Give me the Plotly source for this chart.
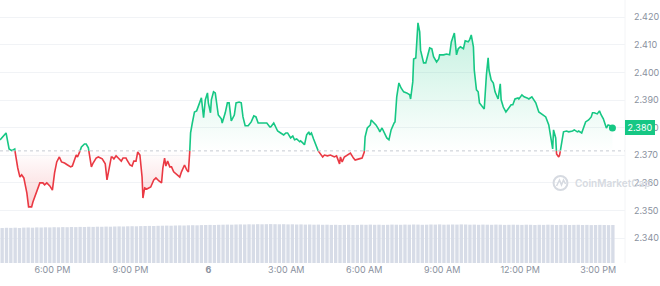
import plotly.graph_objects as go
from datetime import datetime, timedelta

# ---------------- data ----------------
START = datetime(2024, 1, 5, 15, 59)
REF_PRICE = 2.3716
CURRENT_LABEL = "2.380"

minutes = [
    0, 7, 14, 21, 27, 34, 39, 41, 46, 50,
    55, 62, 66, 73, 76, 85, 92, 99, 103, 108,
    115, 121, 126, 131, 137, 142, 149, 156, 163, 167,
    172, 176, 179, 183, 188, 195, 199, 204, 208, 211,
    215, 222, 227, 236, 243, 247, 257, 259, 263, 268,
    273, 280, 284, 291, 293, 300, 305, 309, 314, 318,
    323, 328, 330, 334, 339, 348, 355, 360, 367, 373,
    376, 380, 383, 387, 392, 396, 401, 408, 415, 419,
    426, 431, 435, 438, 440, 444, 449, 454, 460, 465,
    470, 474, 479, 481, 486, 488, 493, 497, 504, 511,
    513, 520, 525, 529, 534, 541, 545, 552, 557, 561,
    566, 573, 580, 586, 591, 596, 603, 612, 616, 623,
    625, 632, 635, 641, 648, 655, 660, 664, 671, 676,
    680, 685, 692, 694, 699, 703, 708, 713, 715, 719,
    724, 729, 733, 738, 745, 749, 756, 763, 772, 777,
    784, 786, 790, 795, 800, 806, 809, 816, 820, 829,
    836, 841, 843, 848, 855, 857, 864, 868, 875, 877,
    882, 887, 893, 898, 903, 910, 912, 916, 921, 926,
    932, 939, 946, 948, 953, 955, 960, 965, 969, 971,
    978, 983, 987, 992, 997, 1001, 1008, 1013, 1015, 1024,
    1031, 1038, 1042, 1047, 1049, 1054, 1058, 1063, 1070, 1074,
    1081, 1084, 1088, 1093, 1095, 1100, 1104, 1107, 1116, 1118,
    1123, 1127, 1129, 1134, 1139, 1143, 1150, 1155, 1157, 1162,
    1168, 1175, 1180, 1184, 1189, 1196, 1198, 1205, 1210, 1217,
    1221, 1228, 1233, 1237, 1244, 1253, 1260, 1267, 1271, 1276,
    1278, 1283, 1285, 1290, 1292, 1297, 1301, 1308, 1313, 1322,
    1326, 1333, 1336, 1343, 1347, 1352, 1359, 1365, 1368, 1372,
    1379, 1384, 1388, 1393, 1400, 1404, 1409, 1414,
]

price = [
    2.3756, 2.3770, 2.3781, 2.3723, 2.3717, 2.3723, 2.3658, 2.3654, 2.3621, 2.3629,
    2.3618, 2.3564, 2.3513, 2.3513, 2.3531, 2.3567, 2.3600, 2.3600, 2.3593, 2.3600,
    2.3589, 2.3574, 2.3636, 2.3676, 2.3694, 2.3676, 2.3672, 2.3665, 2.3658, 2.3661,
    2.3687, 2.3701, 2.3694, 2.3708, 2.3730, 2.3741, 2.3741, 2.3727, 2.3687, 2.3658,
    2.3672, 2.3690, 2.3694, 2.3687, 2.3669, 2.3611, 2.3694, 2.3694, 2.3687, 2.3698,
    2.3690, 2.3679, 2.3690, 2.3690, 2.3683, 2.3665, 2.3661, 2.3679, 2.3679, 2.3712,
    2.3701, 2.3621, 2.3545, 2.3582, 2.3578, 2.3585, 2.3611, 2.3618, 2.3607, 2.3600,
    2.3654, 2.3690, 2.3661, 2.3679, 2.3658, 2.3658, 2.3640, 2.3629, 2.3621, 2.3640,
    2.3665, 2.3647, 2.3640, 2.3712, 2.3781, 2.3817, 2.3857, 2.3861, 2.3883, 2.3908,
    2.3836, 2.3901, 2.3926, 2.3890, 2.3854, 2.3901, 2.3930, 2.3926, 2.3846, 2.3832,
    2.3817, 2.3854, 2.3890, 2.3890, 2.3825, 2.3846, 2.3890, 2.3893, 2.3890, 2.3839,
    2.3807, 2.3807, 2.3821, 2.3843, 2.3839, 2.3817, 2.3817, 2.3817, 2.3817, 2.3803,
    2.3803, 2.3817, 2.3807, 2.3788, 2.3781, 2.3774, 2.3781, 2.3781, 2.3763, 2.3770,
    2.3756, 2.3759, 2.3749, 2.3752, 2.3745, 2.3738, 2.3774, 2.3785, 2.3774, 2.3781,
    2.3759, 2.3741, 2.3720, 2.3708, 2.3694, 2.3701, 2.3698, 2.3701, 2.3694, 2.3698,
    2.3669, 2.3694, 2.3676, 2.3694, 2.3698, 2.3705, 2.3708, 2.3690, 2.3683, 2.3687,
    2.3690, 2.3712, 2.3767, 2.3799, 2.3810, 2.3828, 2.3817, 2.3810, 2.3792, 2.3785,
    2.3799, 2.3781, 2.3763, 2.3756, 2.3792, 2.3817, 2.3821, 2.3912, 2.3962, 2.3944,
    2.3930, 2.3926, 2.3919, 2.3904, 2.3966, 2.4049, 2.4053, 2.4180, 2.4147, 2.4081,
    2.4035, 2.4035, 2.4057, 2.4089, 2.4086, 2.4057, 2.4038, 2.4049, 2.4064, 2.4064,
    2.4067, 2.4064, 2.4111, 2.4140, 2.4143, 2.4064, 2.4086, 2.4093, 2.4086, 2.4115,
    2.4111, 2.4118, 2.4136, 2.4093, 2.4009, 2.3937, 2.3930, 2.3890, 2.3875, 2.3868,
    2.3991, 2.4053, 2.4009, 2.3973, 2.3962, 2.3930, 2.3904, 2.3959, 2.3901, 2.3875,
    2.3857, 2.3875, 2.3883, 2.3883, 2.3904, 2.3908, 2.3904, 2.3919, 2.3912, 2.3908,
    2.3904, 2.3912, 2.3897, 2.3890, 2.3857, 2.3846, 2.3839, 2.3810, 2.3767, 2.3723,
    2.3792, 2.3763, 2.3705, 2.3694, 2.3701, 2.3745, 2.3785, 2.3788, 2.3785, 2.3788,
    2.3792, 2.3785, 2.3788, 2.3781, 2.3803, 2.3821, 2.3828, 2.3839, 2.3854, 2.3854,
    2.3850, 2.3861, 2.3846, 2.3832, 2.3799, 2.3810, 2.3807, 2.3799,
]

VOLUME_STEP_MIN = 10
volume = [
    3.50, 3.52, 3.51, 3.53, 3.50, 3.54, 3.55, 3.53, 3.56, 3.55, 3.57, 3.56,
    3.58, 3.57, 3.59, 3.58, 3.60, 3.59, 3.61, 3.60, 3.62, 3.61, 3.63, 3.62,
    3.64, 3.63, 3.65, 3.66, 3.65, 3.67, 3.68, 3.67, 3.69, 3.70, 3.71, 3.70,
    3.72, 3.73, 3.74, 3.73, 3.75, 3.76, 3.75, 3.77, 3.78, 3.77, 3.79, 3.80,
    3.81, 3.80, 3.82, 3.83, 3.84, 3.83, 3.85, 3.86, 3.85, 3.87, 3.86, 3.88,
    3.87, 3.88, 3.89, 3.88, 3.87, 3.88, 3.86, 3.87, 3.85, 3.86, 3.84, 3.85,
    3.83, 3.84, 3.82, 3.83, 3.81, 3.82, 3.80, 3.81, 3.82, 3.80, 3.81, 3.83,
    3.82, 3.84, 3.82, 3.83, 3.81, 3.82, 3.84, 3.83, 3.82, 3.84, 3.83, 3.85,
    3.84, 3.82, 3.83, 3.85, 3.84, 3.86, 3.83, 3.84, 3.85, 3.84, 3.86, 3.85,
    3.83, 3.84, 3.82, 3.84, 3.83, 3.82, 3.84, 3.83, 3.81, 3.82, 3.83, 3.82,
    3.81, 3.83, 3.82, 3.80, 3.82, 3.81, 3.83, 3.82, 3.80, 3.81, 3.82, 3.80,
    3.81, 3.82, 3.80, 3.81, 3.79, 3.80, 3.81, 3.80, 3.79, 3.80,
]

tick_times = ["2024-01-05 18:00", "2024-01-05 21:00", "2024-01-06 00:00", "2024-01-06 03:00",
              "2024-01-06 06:00", "2024-01-06 09:00", "2024-01-06 12:00", "2024-01-06 15:00"]
tick_labels = ["6:00 PM", "9:00 PM", "<b>6</b>", "3:00 AM", "6:00 AM", "9:00 AM", "12:00 PM", "3:00 PM"]
price_ticks = [2.34, 2.35, 2.36, 2.37, 2.38, 2.39, 2.40, 2.41, 2.42]
price_tick_labels = ["2.340", "2.350", "2.360", "2.370", "2.380", "2.390", "2.400", "2.410", "2.420"]
WATERMARK = "CoinMarketCap"

assert len(minutes) == len(price)

GREEN = "#16c784"
RED = "#ea3943"
FONT = "Inter, Roboto, sans-serif"
WM_COLOR = "#d6dae1"

# --------- split line into above / below reference ---------
aug_m, aug_p = [], []
for i, (m, p) in enumerate(zip(minutes, price)):
    if i > 0:
        p0, m0 = price[i - 1], minutes[i - 1]
        if (p0 - REF_PRICE) * (p - REF_PRICE) < 0:
            f = (REF_PRICE - p0) / (p - p0)
            aug_m.append(m0 + f * (m - m0))
            aug_p.append(REF_PRICE)
    aug_m.append(m)
    aug_p.append(p)

aug_t = [START + timedelta(minutes=m) for m in aug_m]
up_line = [p if p >= REF_PRICE else None for p in aug_p]
dn_line = [p if p <= REF_PRICE else None for p in aug_p]
up_fill = [max(p, REF_PRICE) for p in aug_p]
dn_fill = [min(p, REF_PRICE) for p in aug_p]
ref_line = [REF_PRICE] * len(aug_p)

vol_t = [START + timedelta(minutes=VOLUME_STEP_MIN * i + VOLUME_STEP_MIN / 2) for i in range(len(volume))]

fig = go.Figure()

# volume bars
fig.add_trace(go.Bar(x=vol_t, y=volume, yaxis="y2", marker=dict(color="#d7dce7", line=dict(width=0)),
                     hoverinfo="skip", showlegend=False))

# green fill
fig.add_trace(go.Scatter(x=aug_t, y=ref_line, mode="lines", line=dict(width=0), hoverinfo="skip", showlegend=False))
fig.add_trace(go.Scatter(x=aug_t, y=up_fill, mode="lines", line=dict(width=0), fill="tonexty",
                         fillgradient=dict(type="vertical", start=REF_PRICE, stop=max(price),
                                           colorscale=[[0, "rgba(22,199,132,0.0)"], [1, "rgba(22,199,132,0.26)"]]),
                         hoverinfo="skip", showlegend=False))
# red fill
fig.add_trace(go.Scatter(x=aug_t, y=ref_line, mode="lines", line=dict(width=0), hoverinfo="skip", showlegend=False))
fig.add_trace(go.Scatter(x=aug_t, y=dn_fill, mode="lines", line=dict(width=0), fill="tonexty",
                         fillgradient=dict(type="vertical", start=min(price), stop=REF_PRICE,
                                           colorscale=[[0, "rgba(234,57,67,0.22)"], [1, "rgba(234,57,67,0.0)"]]),
                         hoverinfo="skip", showlegend=False))

# lines
fig.add_trace(go.Scatter(x=aug_t, y=up_line, mode="lines", line=dict(color=GREEN, width=1.6),
                         connectgaps=False, showlegend=False))
fig.add_trace(go.Scatter(x=aug_t, y=dn_line, mode="lines", line=dict(color=RED, width=1.6),
                         connectgaps=False, showlegend=False))
# last point
fig.add_trace(go.Scatter(x=[START + timedelta(minutes=minutes[-1])], y=[price[-1]], mode="markers",
                         marker=dict(color=GREEN, size=7), showlegend=False))

x_end = START + timedelta(minutes=1443)

fig.update_layout(
    width=660, height=286,
    margin=dict(l=0, r=30, t=0, b=23),
    paper_bgcolor="white", plot_bgcolor="white",
    font=dict(family=FONT, size=9, color="#8a919e"),
    bargap=0.22,
    xaxis=dict(type="date", range=[START, x_end], tickvals=tick_times, ticktext=tick_labels,
               showgrid=False, zeroline=False, showline=False, ticks="",
               tickfont=dict(size=9, color="#8a919e")),
    yaxis=dict(side="right", range=[2.33098, 2.42627], tickvals=price_ticks, ticktext=price_tick_labels,
               showgrid=True, gridcolor="#f1f3f6", gridwidth=1, zeroline=False, showline=False,
               ticks="", tickfont=dict(size=9, color="#8a919e"), ticklabelstandoff=8),
    yaxis2=dict(overlaying="y", range=[0, 26.3], visible=False),
    shapes=[
        dict(type="line", xref="paper", x0=0, x1=1, yref="y", y0=REF_PRICE, y1=REF_PRICE,
             line=dict(color="#c6cbd3", width=1, dash="dot")),
        dict(type="line", xref="paper", x0=1, x1=1, yref="paper", y0=0, y1=1,
             line=dict(color="#f3f4f6", width=1)),
        dict(type="circle", xref="paper", yref="paper", x0=0.8857, x1=0.9079, y0=0.2776, y1=0.3308,
             line=dict(color=WM_COLOR, width=2)),
        dict(type="path", xref="paper", yref="paper",
             path="M 0.8905,0.2928 L 0.8952,0.3156 L 0.8984,0.2966 L 0.9016,0.3156 L 0.9048,0.3004",
             line=dict(color=WM_COLOR, width=1.5)),
    ],
    annotations=[
        dict(x=1, xref="paper", xanchor="left", y=price[-1], yref="y", yanchor="middle",
             text=CURRENT_LABEL, showarrow=False, bgcolor=GREEN, borderpad=2, borderwidth=0,
             width=26, font=dict(color="white", size=9, family=FONT)),
        dict(x=1.0429, xref="paper", xanchor="right", y=0.304, yref="paper", yanchor="middle",
             text=WATERMARK, showarrow=False, borderpad=0,
             font=dict(color=WM_COLOR, size=10, family=FONT, weight=600)),
    ],
)

fig.write_html("out.html")
